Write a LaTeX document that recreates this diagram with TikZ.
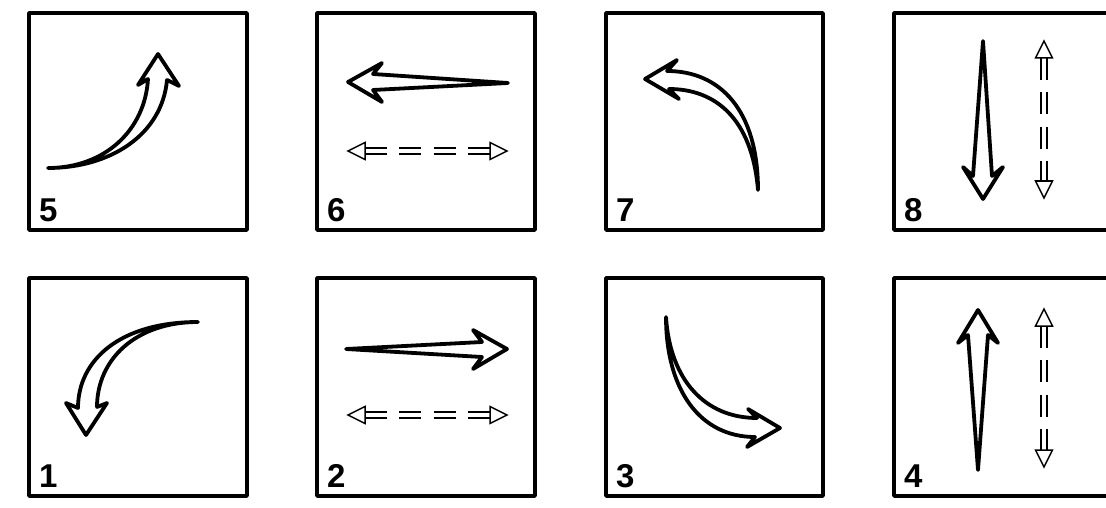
\documentclass[tikz,border=0pt]{standalone}
\usepackage{fontspec}
\setmainfont{Liberation Sans}
\begin{document}
\begin{tikzpicture}[x=1pt,y=-1pt,
  panel/.style={draw, line width=3.6pt, line join=round},
  num/.style={anchor=base west, inner sep=0pt, font=\fontsize{33}{33}\selectfont\bfseries},
  bigarrow/.style={draw, line width=3.8pt, line join=round, line cap=round, fill=white},
  dline/.style={line width=1.5pt, dash pattern=on 22pt off 12.33pt},
  dhead/.style={draw, line width=1.5pt, fill=white, line join=miter}]
\useasboundingbox (0,0) rectangle (1106,508);
\clip (0,0) rectangle (1106,508);
% panels
\draw[panel] (29,13) rectangle (247,230);
\draw[panel] (317,13) rectangle (535,230);
\draw[panel] (606,13) rectangle (823,230);
\draw[panel] (894,13) rectangle (1112,230);
\draw[panel] (29,278) rectangle (247,496);
\draw[panel] (317,278) rectangle (535,496);
\draw[panel] (606,278) rectangle (823,496);
\draw[panel] (894,278) rectangle (1112,496);
% labels
\node[num] (n5) at (39,222) {5};
\node[num] (n6) at (327,222) {6};
\node[num] (n7) at (616,222) {7};
\node[num] (n8) at (904,222) {8};
\node[num] (n1) at (39,487) {1};
\node[num] (n2) at (327,487) {2};
\node[num] (n3) at (616,487) {3};
\node[num] (n4) at (904,487) {4};
% panel 5
\draw[bigarrow] (48,168) .. controls (105,168) and (145,130) .. (148,79) -- (138,85) -- (158,54) -- (179,86) -- (167,80) .. controls (162,135) and (110,168) .. (48,168) -- cycle;
% panel 1
\draw[bigarrow] (198,322) .. controls (120,322) and (78,360) .. (78,408) -- (66,403) -- (86,435) -- (107,403) -- (97,407) .. controls (97,360) and (135,322) .. (198,322) -- cycle;
% panel 3
\draw[bigarrow] (666,317) .. controls (666,390) and (700,437) .. (755,437) -- (747,447) -- (780,428) -- (748,409) -- (757,418) .. controls (705,418) and (670,380) .. (666,317) -- cycle;
% panel 7
\draw[bigarrow] (758,190) .. controls (758,110) and (720,71) .. (667,71) -- (677,60) -- (645,79) -- (679,99) -- (669,89) .. controls (715,89) and (752,118) .. (758,190) -- cycle;
% panel 6
\draw[bigarrow] (508,83) -- (373,74) -- (382,63) -- (348,82) -- (382,102) -- (373,90) -- cycle;
% panel 2
\draw[bigarrow] (346,349) -- (482,342) -- (473,330) -- (507,349) -- (473,369) -- (482,357) -- cycle;
% panel 8
\draw[bigarrow] (983,41) -- (973,176) -- (963,167) -- (983,199) -- (1003,167) -- (992,176) -- cycle;
% panel 4
\draw[bigarrow] (978,470) -- (968,335) -- (958,343) -- (978,310) -- (998,343) -- (988,335) -- cycle;
% dashed horizontal double arrows
\foreach \y in {151,415} {
  \draw[dline] (365,\y-3) -- (490,\y-3);
  \draw[dline] (365,\y+3) -- (490,\y+3);
  \draw[dhead] (365,\y-8.5) -- (348,\y) -- (365,\y+8.5) -- cycle;
  \draw[dhead] (490,\y-8.5) -- (507,\y) -- (490,\y+8.5) -- cycle;
}
% dashed vertical double arrows
\foreach \t/\b in {41/198,309/467} {
  \draw[dline] (1041,\t+17) -- (1041,\b-17);
  \draw[dline] (1047,\t+17) -- (1047,\b-17);
  \draw[dhead] (1035.5,\t+17) -- (1044,\t) -- (1052.5,\t+17) -- cycle;
  \draw[dhead] (1035.5,\b-17) -- (1044,\b) -- (1052.5,\b-17) -- cycle;
}
\end{tikzpicture}
\end{document}
